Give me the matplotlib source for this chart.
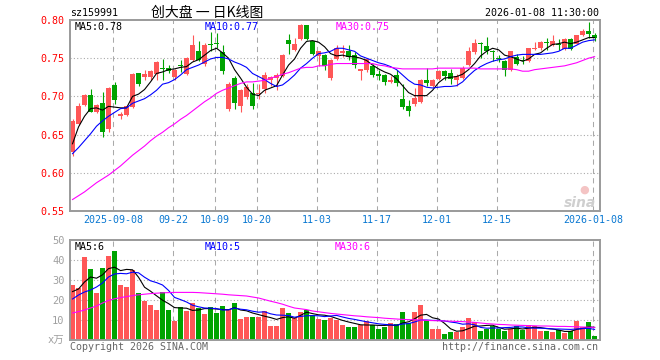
import numpy as np
import matplotlib.pyplot as plt

plt.rcParams['font.family'] = ['DejaVu Sans Mono', 'Noto Sans CJK SC']

# ---- daily candles ----
opens = [0.627, 0.664, 0.689, 0.702, 0.679, 0.691, 0.657, 0.715, 0.675, 0.676,
         0.686, 0.730, 0.725, 0.725, 0.729, 0.737, 0.737, 0.725, 0.741, 0.729,
         0.747, 0.760, 0.743, 0.769, 0.770, 0.758, 0.683, 0.724, 0.687, 0.699,
         0.705, 0.703, 0.710, 0.722, 0.724, 0.727, 0.774, 0.761, 0.775, 0.793,
         0.772, 0.753, 0.754, 0.724, 0.749, 0.757, 0.759, 0.754, 0.733, 0.735,
         0.740, 0.729, 0.728, 0.719, 0.728, 0.697, 0.688, 0.690, 0.693, 0.722,
         0.713, 0.723, 0.733, 0.730, 0.721, 0.724, 0.741, 0.758, 0.770, 0.766,
         0.760, 0.750, 0.746, 0.734, 0.751, 0.747, 0.746, 0.762, 0.763, 0.771,
         0.767, 0.768, 0.762, 0.775, 0.769, 0.780, 0.786, 0.781]
highs = [0.670, 0.692, 0.703, 0.710, 0.690, 0.706, 0.712, 0.719, 0.679, 0.688,
         0.730, 0.731, 0.734, 0.734, 0.746, 0.749, 0.741, 0.736, 0.748, 0.751,
         0.780, 0.773, 0.770, 0.784, 0.783, 0.767, 0.719, 0.727, 0.710, 0.716,
         0.718, 0.716, 0.732, 0.727, 0.730, 0.756, 0.782, 0.777, 0.795, 0.794,
         0.773, 0.760, 0.756, 0.749, 0.767, 0.767, 0.767, 0.758, 0.736, 0.750,
         0.743, 0.734, 0.729, 0.727, 0.734, 0.716, 0.695, 0.711, 0.723, 0.737,
         0.723, 0.734, 0.734, 0.736, 0.729, 0.740, 0.765, 0.775, 0.771, 0.778,
         0.761, 0.754, 0.747, 0.760, 0.756, 0.753, 0.764, 0.771, 0.773, 0.777,
         0.780, 0.775, 0.776, 0.776, 0.781, 0.788, 0.797, 0.783]
lows = [0.622, 0.663, 0.688, 0.679, 0.678, 0.647, 0.654, 0.690, 0.671, 0.675,
        0.685, 0.714, 0.721, 0.721, 0.721, 0.721, 0.731, 0.721, 0.732, 0.728,
        0.746, 0.746, 0.740, 0.760, 0.764, 0.729, 0.681, 0.684, 0.680, 0.697,
        0.684, 0.696, 0.704, 0.714, 0.708, 0.726, 0.756, 0.760, 0.774, 0.774,
        0.754, 0.740, 0.735, 0.721, 0.748, 0.751, 0.748, 0.737, 0.721, 0.732,
        0.726, 0.722, 0.715, 0.718, 0.714, 0.684, 0.674, 0.688, 0.692, 0.714,
        0.712, 0.722, 0.721, 0.716, 0.714, 0.723, 0.740, 0.756, 0.750, 0.756,
        0.746, 0.745, 0.727, 0.733, 0.741, 0.743, 0.745, 0.761, 0.761, 0.761,
        0.766, 0.761, 0.761, 0.761, 0.768, 0.779, 0.776, 0.773]
closes = [0.668, 0.687, 0.702, 0.680, 0.689, 0.654, 0.711, 0.695, 0.677, 0.687,
          0.729, 0.716, 0.729, 0.733, 0.745, 0.736, 0.733, 0.734, 0.740, 0.750,
          0.767, 0.747, 0.767, 0.767, 0.769, 0.733, 0.716, 0.692, 0.708, 0.712,
          0.687, 0.704, 0.728, 0.725, 0.728, 0.754, 0.769, 0.769, 0.794, 0.775,
          0.756, 0.759, 0.740, 0.748, 0.763, 0.759, 0.751, 0.741, 0.736, 0.749,
          0.728, 0.727, 0.719, 0.721, 0.718, 0.686, 0.681, 0.698, 0.721, 0.718,
          0.722, 0.733, 0.727, 0.723, 0.727, 0.737, 0.760, 0.770, 0.769, 0.759,
          0.758, 0.749, 0.734, 0.760, 0.743, 0.746, 0.763, 0.764, 0.771, 0.770,
          0.772, 0.767, 0.775, 0.762, 0.780, 0.785, 0.782, 0.777]

ma5 = [0.638, 0.660, 0.674, 0.684, 0.685, 0.682, 0.687, 0.686, 0.685, 0.685,
       0.700, 0.703, 0.709, 0.719, 0.730, 0.732, 0.735, 0.736, 0.738, 0.739,
       0.745, 0.748, 0.754, 0.760, 0.763, 0.757, 0.750, 0.735, 0.724, 0.712,
       0.703, 0.701, 0.708, 0.711, 0.714, 0.728, 0.741, 0.749, 0.763, 0.772,
       0.773, 0.771, 0.765, 0.756, 0.753, 0.754, 0.752, 0.752, 0.750, 0.747,
       0.741, 0.736, 0.732, 0.729, 0.723, 0.714, 0.705, 0.701, 0.701, 0.701,
       0.708, 0.718, 0.724, 0.725, 0.726, 0.729, 0.735, 0.743, 0.753, 0.759,
       0.763, 0.761, 0.754, 0.752, 0.749, 0.746, 0.749, 0.755, 0.757, 0.763,
       0.768, 0.769, 0.771, 0.769, 0.771, 0.774, 0.777, 0.777]
ma10 = [0.625, 0.633, 0.642, 0.651, 0.661, 0.668, 0.674, 0.679, 0.684, 0.685,
        0.691, 0.694, 0.697, 0.702, 0.708, 0.716, 0.718, 0.722, 0.728, 0.735,
        0.738, 0.741, 0.745, 0.749, 0.751, 0.751, 0.749, 0.745, 0.742, 0.738,
        0.730, 0.726, 0.722, 0.717, 0.713, 0.715, 0.721, 0.728, 0.737, 0.743,
        0.750, 0.756, 0.757, 0.759, 0.763, 0.763, 0.761, 0.759, 0.753, 0.750,
        0.747, 0.744, 0.742, 0.739, 0.735, 0.728, 0.721, 0.716, 0.715, 0.712,
        0.711, 0.712, 0.713, 0.713, 0.714, 0.719, 0.727, 0.734, 0.739, 0.743,
        0.746, 0.748, 0.749, 0.752, 0.754, 0.755, 0.755, 0.755, 0.755, 0.756,
        0.757, 0.759, 0.763, 0.763, 0.767, 0.771, 0.773, 0.774]
ma30 = [0.565, 0.570, 0.575, 0.581, 0.587, 0.592, 0.597, 0.603, 0.609, 0.616,
        0.623, 0.629, 0.635, 0.642, 0.648, 0.653, 0.659, 0.664, 0.670, 0.675,
        0.681, 0.687, 0.693, 0.698, 0.704, 0.708, 0.711, 0.714, 0.717, 0.719,
        0.719, 0.720, 0.721, 0.724, 0.726, 0.729, 0.731, 0.734, 0.737, 0.738,
        0.738, 0.740, 0.740, 0.742, 0.743, 0.743, 0.743, 0.743, 0.743, 0.743,
        0.743, 0.741, 0.740, 0.738, 0.737, 0.736, 0.736, 0.736, 0.736, 0.736,
        0.736, 0.737, 0.737, 0.737, 0.737, 0.737, 0.737, 0.737, 0.736, 0.736,
        0.736, 0.736, 0.736, 0.736, 0.735, 0.733, 0.733, 0.735, 0.736, 0.737,
        0.738, 0.739, 0.740, 0.742, 0.744, 0.747, 0.750, 0.752]

# ---- volume (x万) ----
volume = [27.5, 26.2, 41.5, 35.7, 23.5, 36.0, 42.0, 44.7, 27.5, 26.5,
          35.0, 23.5, 19.7, 17.5, 15.0, 24.0, 15.0, 9.7, 16.5, 14.5,
          18.5, 16.0, 13.0, 16.5, 13.5, 17.0, 15.5, 18.5, 10.5, 11.5,
          11.5, 11.5, 14.5, 7.0, 7.0, 16.0, 13.5, 11.0, 14.0, 15.0,
          12.5, 10.5, 10.0, 10.8, 10.0, 7.5, 6.5, 6.5, 7.5, 9.5,
          7.5, 5.5, 6.5, 8.5, 8.0, 14.0, 8.5, 14.0, 17.5, 10.0,
          5.5, 5.5, 3.0, 4.0, 4.0, 6.5, 11.0, 9.0, 4.5, 5.5,
          7.0, 5.5, 4.5, 5.5, 7.0, 5.0, 7.5, 7.0, 4.5, 4.5,
          4.0, 5.0, 3.7, 4.5, 9.5, 6.5, 9.0, 2.0]
vol_ma5 = [24.2, 25.5, 29.0, 31.5, 30.9, 32.6, 35.7, 36.4, 34.7, 35.3,
           35.1, 31.4, 26.4, 24.4, 22.1, 19.9, 18.2, 16.2, 16.0, 15.9,
           14.8, 15.0, 15.7, 15.7, 15.5, 15.2, 15.1, 16.2, 15.0, 14.6,
           13.5, 12.7, 11.9, 11.2, 10.3, 11.2, 11.6, 10.9, 12.3, 13.9,
           13.2, 12.6, 12.4, 11.8, 10.8, 9.8, 9.0, 8.3, 7.6, 7.5,
           7.5, 7.3, 7.3, 7.5, 7.2, 8.5, 9.1, 10.6, 12.4, 12.8,
           11.1, 10.5, 8.3, 5.6, 4.4, 4.6, 5.7, 6.9, 7.0, 7.3,
           7.4, 6.3, 5.4, 5.6, 5.9, 5.5, 5.9, 6.4, 6.2, 5.7,
           5.5, 5.0, 4.3, 4.3, 5.3, 5.8, 6.6, 6.3]
vol_ma10 = [20.5, 22.5, 24.0, 25.0, 26.5, 28.5, 31.5, 33.0, 33.3, 33.1,
            33.9, 33.6, 31.4, 29.6, 28.7, 27.5, 24.8, 21.3, 20.2, 19.0,
            17.4, 16.6, 16.0, 15.9, 15.7, 15.0, 15.1, 16.0, 15.4, 15.1,
            14.4, 13.9, 14.1, 13.1, 12.5, 12.4, 12.2, 11.4, 11.8, 12.1,
            12.2, 12.1, 11.7, 12.0, 12.3, 11.5, 10.8, 10.3, 9.7, 9.1,
            8.6, 8.1, 7.8, 7.6, 7.4, 8.0, 8.2, 9.0, 10.0, 10.0,
            9.8, 9.8, 9.5, 9.0, 8.6, 7.9, 8.1, 7.6, 6.3, 5.9,
            6.0, 6.0, 6.2, 6.3, 6.6, 6.5, 6.1, 5.9, 5.9, 5.8,
            5.5, 5.5, 5.4, 5.3, 5.5, 5.7, 5.8, 5.3]
vol_ma30 = [13.5, 14.2, 15.0, 16.0, 17.0, 18.5, 19.8, 20.6, 21.2, 21.7,
            22.2, 22.6, 22.9, 23.2, 23.4, 23.6, 23.7, 23.8, 23.8, 23.8,
            23.8, 23.7, 23.5, 23.3, 23.1, 22.9, 22.6, 22.4, 22.2, 22.0,
            21.5, 21.0, 20.2, 19.4, 18.7, 17.9, 16.9, 16.0, 15.6, 15.2,
            14.5, 14.1, 13.7, 13.3, 13.0, 12.7, 12.4, 12.1, 11.9, 11.6,
            11.4, 11.2, 10.9, 10.7, 10.5, 10.3, 10.2, 10.1, 10.0, 9.8,
            9.7, 9.6, 9.5, 9.4, 9.3, 9.2, 9.0, 8.8, 8.5, 8.2,
            8.0, 7.8, 7.7, 7.5, 7.4, 7.3, 7.2, 7.1, 7.0, 7.0,
            6.9, 6.8, 6.8, 6.7, 6.6, 6.5, 6.4, 6.3]

tick_idx = [7, 17, 24, 31, 41, 51, 61, 71, 87]
tick_labels = ["2025-09-08", "09-22", "10-09", "10-20", "11-03",
               "11-17", "12-01", "12-15", "2026-01-08"]
price_ticks = [0.55, 0.60, 0.65, 0.70, 0.75, 0.80]
vol_ticks = [0, 10, 20, 30, 40, 50]

RED, GREEN = "#ff5757", "#00a300"
FRAME, GRID = "#9a9a9a", "#aaaaaa"
W, H = 660, 360


def px(x, y):
    return x / W, 1 - y / H


o, h, l, c = map(np.array, (opens, highs, lows, closes))
x = np.arange(len(c))
colors = np.where(c >= o, RED, GREEN)

fig = plt.figure(figsize=(W / 100, H / 100), dpi=100)
ax = fig.add_axes([70 / W, 149 / H, 530 / W, 191 / H])
axv = fig.add_axes([70 / W, 20 / H, 530 / W, 100 / H])

for a in (ax, axv):
    a.set_xlim(-0.42, 87.9)
    for s in a.spines.values():
        s.set_color(FRAME)
        s.set_linewidth(1.4)
    for t in tick_idx:
        a.axvline(t - 0.25, color=GRID, lw=0.75, ls=(0, (5, 4)), zorder=0)

# ── price panel ─────────────────────────────
for y in price_ticks[1:-1]:
    ax.axhline(y, color=GRID, lw=0.8, ls=(0, (1, 2)), zorder=0)
ax.vlines(x, l, h, colors=colors, lw=0.8, zorder=2)
ax.bar(x, np.maximum(np.abs(c - o), 0.0013), bottom=np.minimum(o, c),
       width=0.8, color=colors, lw=0, zorder=2)
ax.plot(x, ma5, color="black", lw=0.8, zorder=3)
ax.plot(x, ma10, color="#0000ff", lw=0.8, zorder=3)
ax.plot(x, ma30, color="#ff00ff", lw=0.8, zorder=3)
ax.set_ylim(0.55, 0.80)
ax.set_yticks(price_ticks)
ax.set_yticklabels([f"{v:.2f}" for v in price_ticks])
ax.set_xticks([t - 0.25 for t in tick_idx])
ax.set_xticklabels(tick_labels)
ax.tick_params(axis="y", length=0, pad=4, labelsize=7.2, labelcolor="red")
ax.tick_params(axis="x", length=0, pad=3, labelsize=7.2, labelcolor="#0a78d2")

# ── volume panel ────────────────────────────
for y in vol_ticks[1:-1]:
    axv.axhline(y, color=GRID, lw=0.8, ls=(0, (1, 2)), zorder=0)
axv.bar(x, volume, width=0.8, color=colors, lw=0, zorder=2)
axv.plot(x, vol_ma5, color="black", lw=0.8, zorder=3)
axv.plot(x, vol_ma10, color="#0000ff", lw=0.8, zorder=3)
axv.plot(x, vol_ma30, color="#ff00ff", lw=0.8, zorder=3)
axv.set_ylim(0, 50)
axv.set_yticks(vol_ticks)
axv.set_yticklabels(["x万"] + [str(v) for v in vol_ticks[1:]])
axv.set_xticks([])
axv.tick_params(axis="y", length=0, pad=4, labelsize=7.5, labelcolor="#a0a0a0")

# ── texts ───────────────────────────────────
fig.text(*px(70, 13), "sz159991", fontsize=7.2, va="center")
fig.text(*px(151, 13), "创大盘 一 日K线图", fontsize=10, va="center",
         family=["Noto Sans CJK SC", "DejaVu Sans"])
fig.text(*px(599, 13), "2026-01-08 11:30:00", fontsize=7.2, va="center", ha="right")

fig.text(*px(75, 27), f"MA5:{ma5[-1]:.2f}", fontsize=7.2, va="center", color="black")
fig.text(*px(205, 27), f"MA10:{ma10[-1]:.2f}", fontsize=7.2, va="center", color="#0000ff")
fig.text(*px(336, 27), f"MA30:{ma30[-1]:.2f}", fontsize=7.2, va="center", color="#ff00ff")
fig.text(*px(75, 247), f"MA5:{vol_ma5[-1]:.0f}", fontsize=7.2, va="center", color="black")
fig.text(*px(205, 247), f"MA10:{vol_ma10[-1]:.0f}", fontsize=7.2, va="center", color="#0000ff")
fig.text(*px(335, 247), f"MA30:{vol_ma30[-1]:.0f}", fontsize=7.2, va="center", color="#ff00ff")

fig.text(*px(70, 347), "Copyright 2026 SINA.COM", fontsize=7.2, va="center", color="#666666")
fig.text(*px(598, 347), "http://finance.sina.com.cn", fontsize=7.2, va="center",
         ha="right", color="#666666")

# sina watermark
fig.text(*px(584, 190), "●", fontsize=8, va="center", ha="center", color="#f4c4c4",
         family="DejaVu Sans")
fig.text(*px(580, 203), "sina", fontsize=10, va="center", ha="center", color="#cfcfcf",
         style="italic", weight="bold", family="DejaVu Sans")

fig.savefig("out.png", dpi=100)
